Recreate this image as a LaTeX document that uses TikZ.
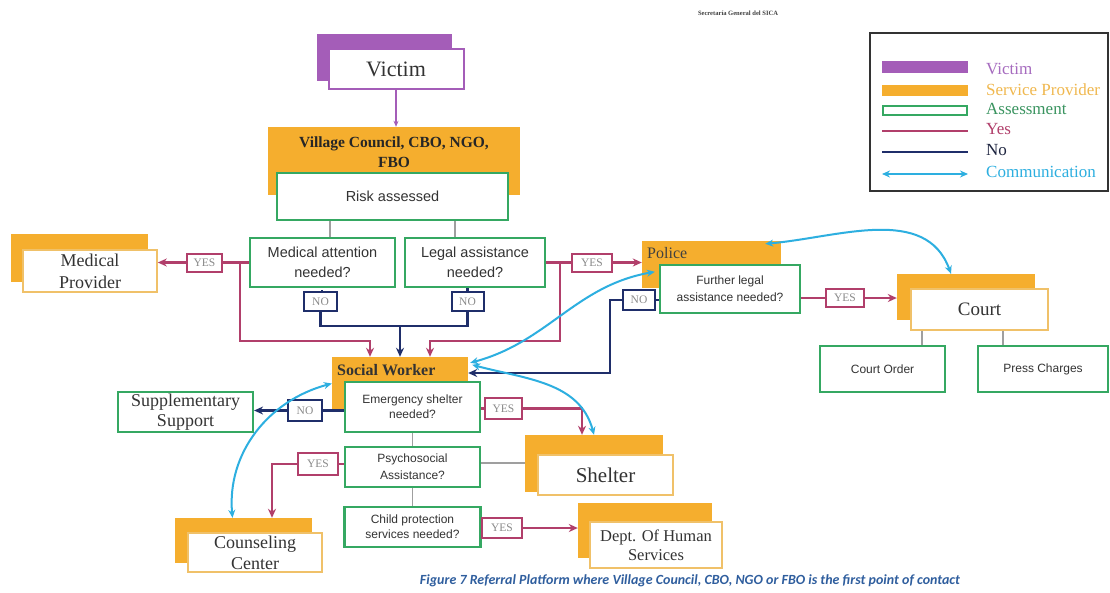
\documentclass[tikz,border=0pt]{standalone}
\usepackage{fontspec}
\usepackage{graphicx}
\setmainfont{Liberation Serif}
\newfontfamily\arialf{Liberation Sans}
\newfontfamily\calibf{Carlito}
\usetikzlibrary{arrows.meta}
\newcommand\myfs[2]{\fontsize{#1}{#2}\selectfont}
\definecolor{vpurple}{HTML}{A45DB8}
\definecolor{sorange}{HTML}{F5AE2E}
\definecolor{agreen}{HTML}{35A862}
\definecolor{yespink}{HTML}{B13F6B}
\definecolor{nonavy}{HTML}{1F2E6A}
\definecolor{comcyan}{HTML}{2DAFE0}
\definecolor{lorange}{HTML}{F0C169}
\definecolor{txt}{HTML}{333333}
\definecolor{capblue}{HTML}{2F5E9E}
\definecolor{lbltxt}{HTML}{8A8A8A}
\begin{document}
\begin{tikzpicture}[x=1pt,y=-1pt,
  box/.style={inner sep=0pt, align=center, text=txt},
  assess/.style={box, draw=agreen, line width=2.2pt, fill=white},
  provback/.style={fill=sorange, inner sep=0pt},
  provfront/.style={box, draw=lorange, line width=1.6pt, fill=white},
  yesbox/.style={draw=yespink, line width=2pt, fill=white, text=lbltxt, font=\myfs{11.5}{11.5}, inner sep=0pt},
  nobox/.style={draw=nonavy, line width=2pt, fill=white, text=lbltxt, font=\myfs{11.5}{11.5}, inner sep=0pt},
  tip/.style={-{Stealth[length=9pt,width=8pt]}},
  yesline/.style={draw=yespink, line width=2.3pt},
  noline/.style={draw=nonavy, line width=2.3pt},
  grayline/.style={draw=gray!75, line width=1.3pt},
  comline/.style={draw=comcyan, line width=2pt, {Stealth[length=8pt,width=7pt]}-{Stealth[length=8pt,width=7pt]}},
  legtxt/.style={anchor=west, inner sep=0pt, font=\myfs{17}{17}}
]
\fill[white] (0,0) rectangle (1110,592);
\useasboundingbox (0,0) rectangle (1110,592);

% top tiny text
\node[text=black!75] (sica) at (738,13) {\resizebox{80pt}{!}{\bfseries Secretaría General del SICA}};

% Victim
\node[fill=vpurple, minimum width=135pt, minimum height=47pt, inner sep=0pt] (vicb) at (384,57) {};
\node[box, draw=vpurple, line width=2pt, fill=white, minimum width=135pt, minimum height=40pt, font=\myfs{22}{24}] (vic) at (396,69) {Victim};

% Village council
\node[provback, minimum width=252pt, minimum height=68pt] (vc) at (394,161) {};
\node[box, text=black!85, font=\myfs{15.5}{20}\bfseries] (vctext) at (394,152) {Village Council, CBO, NGO,\\FBO};
\draw[vpurple, line width=1.5pt, -{Stealth[length=6pt,width=5pt]}] (vic.south) -- (vic.south |- vc.north);

\node[assess, minimum width=231pt, minimum height=47pt, font=\arialf\myfs{14.5}{17}] (risk) at (392.5,196.5) {Risk assessed};

% first level
\node[assess, minimum width=145pt, minimum height=49pt, font=\arialf\myfs{14.5}{20}] (med) at (322.5,262.5) {Medical attention\\needed?};
\node[assess, minimum width=140pt, minimum height=49pt, font=\arialf\myfs{14.5}{20}] (leg) at (475,262.5) {Legal assistance\\needed?};
\draw[grayline] ([xshift=-62.5pt]risk.south) -- ([xshift=-62.5pt]risk.south |- med.north);
\draw[grayline] ([xshift=62.5pt]risk.south) -- ([xshift=62.5pt]risk.south |- leg.north);

% medical provider
\node[provback, minimum width=137pt, minimum height=48pt] (mpb) at (79.5,258) {};
\node[provfront, minimum width=134pt, minimum height=42pt, font=\myfs{18}{22}] (mpf) at (90,271) {Medical\\Provider};
\node[yesbox, minimum width=35pt, minimum height=18pt] (medyes) at (204.5,262.5) {YES};
\node[nobox, minimum width=33pt, minimum height=19pt] (medno) at (320.5,301.5) {NO};
\node[nobox, minimum width=32pt, minimum height=19pt] (legno) at (467.5,301.5) {NO};
\node[yesbox, minimum width=40pt, minimum height=18pt] (legyes) at (592,262.5) {YES};

% police
\node[provback, minimum width=139pt, minimum height=47pt] (pol) at (711.5,264.5) {};
\node[anchor=west, inner sep=0pt, text=black!75, font=\myfs{16}{16}] (poltext) at (647,253) {Police};
\node[assess, minimum width=140pt, minimum height=48pt, font=\arialf\myfs{12}{17}] (fur) at (730,289) {Further legal\\assistance needed?};
\node[nobox, minimum width=32pt, minimum height=20pt] (furno) at (639,300) {NO};
\node[yesbox, minimum width=38pt, minimum height=18pt] (furyes) at (845,298) {YES};

% court
\node[provback, minimum width=138pt, minimum height=46pt] (crtb) at (966,297) {};
\node[provfront, minimum width=137pt, minimum height=41pt, font=\myfs{19}{21}] (crtf) at (979.5,309.5) {Court};
\node[assess, minimum width=125pt, minimum height=46pt, font=\arialf\myfs{12}{14}] (cord) at (882.5,369) {Court Order};
\node[assess, minimum width=130pt, minimum height=46pt, font=\arialf\myfs{12}{14}] (pch) at (1043,369) {Press Charges};
\draw[grayline] ([xshift=-57.5pt]crtf.south) -- ([xshift=-57.5pt]crtf.south |- cord.north);
\draw[grayline] ([xshift=23.5pt]crtf.south) -- ([xshift=23.5pt]crtf.south |- pch.north);

% social worker
\node[provback, minimum width=136pt, minimum height=53pt] (sw) at (400,383.5) {};
\node[anchor=west, inner sep=0pt, text=black!80, font=\myfs{16}{16}\bfseries] (swtext) at (337,370) {Social Worker};
\node[assess, minimum width=135pt, minimum height=50pt, font=\arialf\myfs{12}{15}] (em) at (412.5,407) {Emergency shelter\\needed?};
\node[nobox, minimum width=34pt, minimum height=21pt] (emno) at (305,410.5) {NO};
\node[assess, minimum width=135pt, minimum height=40pt, font=\myfs{18}{20}] (supp) at (185.5,412) {Supplementary\\Support};
\node[yesbox, minimum width=37pt, minimum height=21pt] (emyes) at (503.5,408.5) {YES};

\node[provback, minimum width=138pt, minimum height=57pt] (shb) at (594,463.5) {};
\node[provfront, minimum width=135pt, minimum height=40pt, font=\myfs{21}{23}] (shf) at (605.5,475) {Shelter};

\node[assess, minimum width=135pt, minimum height=40pt, font=\arialf\myfs{12}{17}] (psy) at (412.5,467) {Psychosocial\\Assistance?};
\node[yesbox, minimum width=40pt, minimum height=22pt] (psyyes) at (318,464) {YES};

\node[provback, minimum width=137pt, minimum height=45pt] (ccb) at (243.5,540.5) {};
\node[provfront, minimum width=134pt, minimum height=39pt, font=\myfs{18}{21}] (ccf) at (255,552.5) {Counseling\\Center};

\node[assess, minimum width=136pt, minimum height=40pt, font=\arialf\myfs{12}{15}] (chp) at (412.5,527) {Child protection\\services needed?};
\node[yesbox, minimum width=40pt, minimum height=20pt] (chyes) at (502,528) {YES};

\node[provback, minimum width=134pt, minimum height=55pt] (deptb) at (645,530.5) {};
\node[provfront, minimum width=132pt, minimum height=46pt, font=\myfs{16.5}{19}] (deptf) at (656,545) {Dept. Of Human\\Services};

% gray links
\draw[grayline] (em.south) -- (psy.north);
\draw[grayline] (psy.south) -- (chp.north);
\draw[grayline] ([yshift=4pt]psy.east) -- ([yshift=4pt]psy.east -| shb.west);

% yes lines (pink)
\coordinate (j1) at (240,262.5);
\coordinate (j2) at (560,262.5);
\draw[yesline] (med.west) -- (medyes.east);
\draw[yesline, tip] (medyes.west) -- (medyes.west -| mpf.east);
\draw[yesline, tip] (j1) |- ([xshift=-30pt,yshift=16pt]sw.north) -- ([xshift=-30pt]sw.north);
\draw[yesline] (leg.east) -- (legyes.west);
\draw[yesline, tip] (legyes.east) -- (legyes.east -| pol.west);
\draw[yesline, tip] (j2) |- ([xshift=30pt,yshift=16pt]sw.north) -- ([xshift=30pt]sw.north);
\draw[yesline] (fur.east |- furyes) -- (furyes.west);
\draw[yesline, tip] (furyes.east) -- (furyes.east -| crtb.west);
\draw[yesline] (em.east |- emyes) -- (emyes.west);
\draw[yesline, tip] (emyes.east) -| ([xshift=-12pt]shb.north);
\draw[yesline] (psy.west |- psyyes) -- (psyyes.east);
\draw[yesline, tip] (psyyes.west) -| ([xshift=28.5pt]ccb.north);
\draw[yesline] (chp.east |- chyes) -- (chyes.west);
\draw[yesline, tip] (chyes.east) -- (chyes.east -| deptb.west);

% no lines (navy)
\coordinate (nm) at (400,326);
\coordinate (nb) at (610,373);
\draw[noline] (med.south |- medno.north) -- (medno.north);
\draw[noline] (legno.north |- leg.south) -- (legno.north);
\draw[noline] (medno.south) |- (nm) -| (legno.south);
\draw[noline, tip] (nm) -- (sw.north);
\draw[noline] (fur.west |- furno) -- (furno.east);
\draw[noline, tip] (furno.west) -| (nb) -- (nb -| sw.east);
\draw[noline] (em.west |- emno) -- (emno.east);
\draw[noline, tip] (emno.west) -- (emno.west -| supp.east);

% communication (cyan)
\draw[comline] ([xshift=-11pt]ccb.north) to[out=95,in=195] (sw.west);
\draw[comline] ([xshift=2pt,yshift=-6pt]sw.north east) to[out=15,in=190] ([xshift=13pt,yshift=-31pt]pol.north west);
\draw[comline] ([xshift=4pt,yshift=-8pt]sw.north east) to[out=-15,in=105] (shb.north);
\draw[comline] ([xshift=-16pt,yshift=-3pt]pol.north east) to[out=5,in=110] ([xshift=-15pt]crtb.north);

% legend
\node[draw=black!80, line width=1.5pt, minimum width=238pt, minimum height=158pt, inner sep=0pt] (legend) at (989,112) {};
\node[fill=vpurple, minimum width=86pt, minimum height=12pt, inner sep=0pt] (lv) at (925,67) {};
\node[fill=sorange, minimum width=86pt, minimum height=11pt, inner sep=0pt] (ls) at (925,90) {};
\node[draw=agreen, line width=2pt, fill=white, minimum width=84pt, minimum height=9pt, inner sep=0pt] (la) at (925,110) {};
\coordinate (ly1) at (882,131); \coordinate (ly2) at (968,131);
\coordinate (ln1) at (882,152); \coordinate (ln2) at (968,152);
\coordinate (lc1) at (882,174); \coordinate (lc2) at (968,174);
\draw[yesline] (ly1) -- (ly2);
\draw[noline] (ln1) -- (ln2);
\draw[comline] (lc1) -- (lc2);
\node[legtxt, text={rgb,255:red,166;green,107;blue,191}] (tv) at (986,69) {Victim};
\node[legtxt, text={rgb,255:red,240;green,184;blue,79}] (ts) at (986,90) {Service Provider};
\node[legtxt, text={rgb,255:red,58;green,148;blue,96}] (ta) at (986,109) {Assessment};
\node[legtxt, text=yespink] (ty) at (986,129) {Yes};
\node[legtxt, text={rgb,255:red,30;green,37;blue,64}] (tn) at (986,150) {No};
\node[legtxt, text=comcyan] (tc) at (986,172) {Communication};

% caption
\node[text=capblue, inner sep=0pt] (cap) at (690,581) {\resizebox{540pt}{!}{\calibf\itshape\bfseries Figure 7 Referral Platform where Village Council, CBO, NGO or FBO is the first point of contact}};
\end{tikzpicture}
\end{document}
